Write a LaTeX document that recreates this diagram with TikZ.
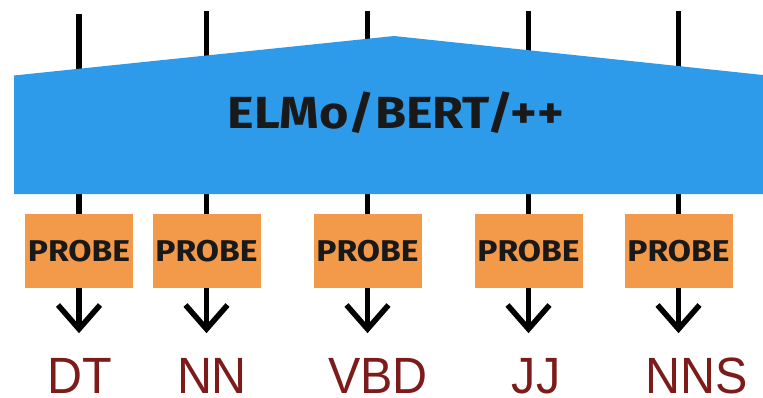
\documentclass[tikz,border=0pt]{standalone}
\usepackage{fontspec}
\newfontfamily\dinfont[FakeStretch=1.12]{Fira Sans}
\newfontfamily\lblfont[FakeStretch=0.95]{Liberation Sans}
\definecolor{barblue}{HTML}{2E9BEA}
\definecolor{probeorange}{HTML}{F29A4A}
\definecolor{tagred}{HTML}{7D1A1A}
\begin{document}
\begin{tikzpicture}[x=1pt,y=-1pt,
  wire/.style={line width=5.5pt,black},
  probebox/.style={fill=probeorange,draw=none,minimum width=108pt,minimum height=74pt,inner sep=0pt,
    font=\dinfont\bfseries\fontsize{30}{30}\selectfont,text=black!90},
  tag/.style={anchor=base,inner sep=0pt,text depth=0pt,text=tagred,font=\lblfont\fontsize{51}{51}\selectfont},
  chev/.style={line width=5.5pt,black,line join=miter}]
\useasboundingbox (0,0) rectangle (763,397);
% top ends
\coordinate (t1) at (79,14);
\coordinate (t2) at (206.5,11);
\coordinate (t3) at (367.5,11);
\coordinate (t4) at (528.5,11);
\coordinate (t5) at (678.5,11);
% probes
\node[probebox] (p1) at (79,251) {PROBE};
\node[probebox] (p2) at (206.5,251) {PROBE};
\node[probebox] (p3) at (367.5,251) {PROBE};
\node[probebox] (p4) at (528.5,251) {PROBE};
\node[probebox] (p5) at (678.5,251) {PROBE};
% wires through the encoder
\foreach \i in {1,...,5} {\draw[wire] (t\i) -- (p\i.north);}
% encoder
\path[fill=barblue] (14,75.5) -- (394,36) -- (763,75) -- (763,194) -- (14,194) -- cycle;
\node[inner sep=0pt,anchor=base,font=\dinfont\bfseries\fontsize{45}{45}\selectfont,text=black!90] (enc) at (396,128) {ELMo/BERT/++};
% arrow ends
\foreach \i/\x in {1/79,2/206.5,3/367.5,4/528.5,5/678.5} {
  \coordinate (a\i) at (\x,329);
  \draw[wire] (p\i.south) -- (a\i);
  \draw[chev] ([shift={(-21,-24)}]a\i) -- (a\i) -- ([shift={(21,-24)}]a\i);
}
% tags
\node[tag] (l1) at (80,393) {DT};
\node[tag] (l2) at (212,393) {NN};
\node[tag] (l3) at (378,393) {VBD};
\node[tag] (l4) at (536,393) {JJ};
\node[tag] (l5) at (697,393) {NNS};
\end{tikzpicture}
\end{document}
